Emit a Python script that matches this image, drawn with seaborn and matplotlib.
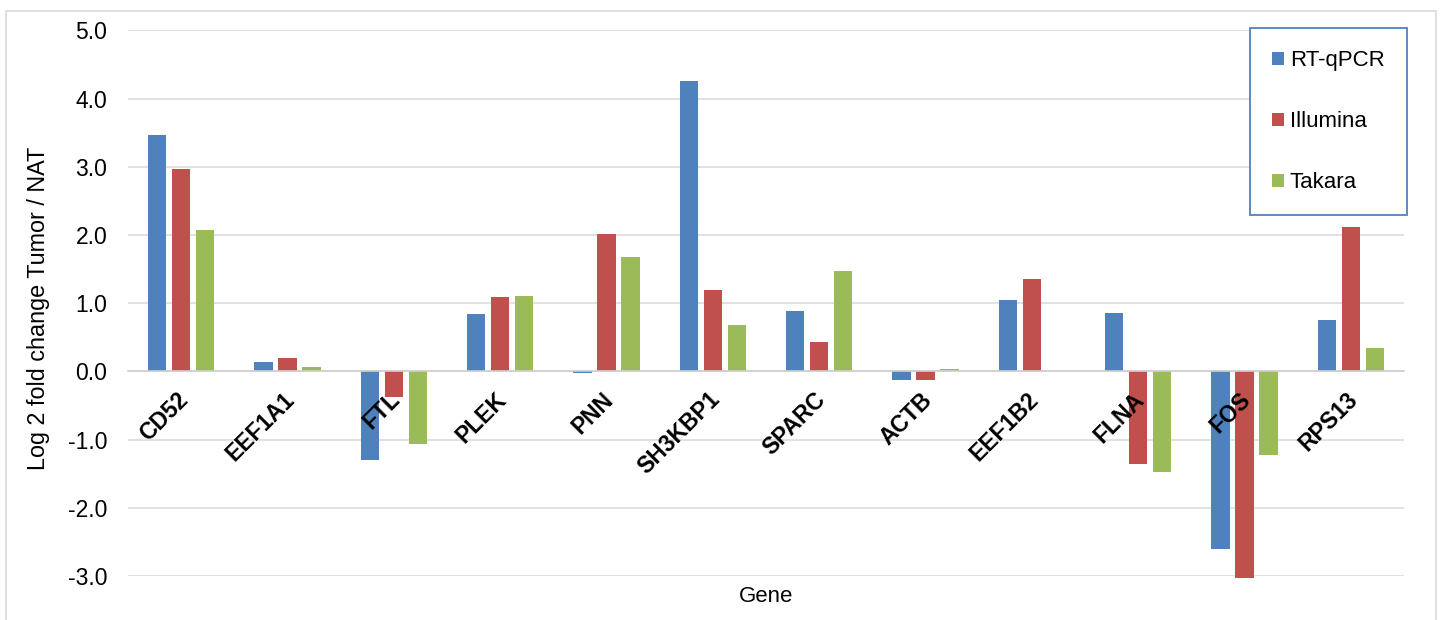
import numpy as np
import pandas as pd
import matplotlib
matplotlib.use("Agg")
import matplotlib.pyplot as plt
import seaborn as sns
from matplotlib.patches import Rectangle
from matplotlib.ticker import FormatStrFormatter
from matplotlib.transforms import ScaledTranslation

# ---- data ----
genes = ["CD52", "EEF1A1", "FTL", "PLEK", "PNN", "SH3KBP1", "SPARC",
         "ACTB", "EEF1B2", "FLNA", "FOS", "RPS13"]
rt_qpcr = [3.46, 0.13, -1.30, 0.84, -0.02, 4.25, 0.88, -0.13, 1.04, 0.85, -2.61, 0.76]
illumina = [2.97, 0.20, -0.38, 1.09, 2.01, 1.19, 0.43, -0.13, 1.35, -1.36, -3.03, 2.11]
takara = [2.07, 0.06, -1.07, 1.11, 1.67, 0.68, 1.47, 0.04, 0.00, -1.47, -1.23, 0.34]
series_names = ["RT-qPCR", "Illumina", "Takara"]
series_colors = ["#4F81BD", "#C0504D", "#9BBB59"]
y_ticks = [-3, -2, -1, 0, 1, 2, 3, 4, 5]

df = pd.DataFrame({
    "Gene": genes * 3,
    "Method": [series_names[0]] * len(genes) + [series_names[1]] * len(genes)
              + [series_names[2]] * len(genes),
    "Value": rt_qpcr + illumina + takara,
})

sns.set_theme(style="white")
plt.rcParams["font.family"] = ["Liberation Sans", "DejaVu Sans"]
plt.rcParams["axes.unicode_minus"] = False

W, H = 1440, 620
fig = plt.figure(figsize=(W / 100, H / 100), dpi=100)
ax = fig.add_axes([128 / W, 1 - 576 / H, (1404 - 128) / W, (576 - 30.3) / H])

sns.barplot(data=df, x="Gene", y="Value", hue="Method", order=genes,
            hue_order=series_names, palette=dict(zip(series_names, series_colors)),
            width=0.68, gap=0.24, errorbar=None, linewidth=0, saturation=1, ax=ax)

for p in ax.patches:
    p.set_clip_on(False)

ax.set_xlim(-0.5, len(genes) - 0.5)
ax.set_ylim(-3, 5)
ax.set_yticks(y_ticks)
ax.yaxis.set_major_formatter(FormatStrFormatter("%.1f"))

for s in ["top", "right", "left"]:
    ax.spines[s].set_visible(False)
ax.spines["bottom"].set_position(("data", 0))
ax.spines["bottom"].set_color("#D0D0D0")
ax.spines["bottom"].set_linewidth(1.2)

ax.grid(axis="y", color="#D9D9D9", linewidth=1.1)
ax.grid(axis="x", visible=False)
ax.set_axisbelow(True)
ax.xaxis.set_zorder(5)

ax.tick_params(axis="y", length=0, pad=15, labelsize=16.5, labelcolor="black")
ax.set_xticks(np.arange(len(genes)))
ax.set_xticklabels(genes, rotation=45, ha="right", va="top",
                   rotation_mode="anchor", fontweight="bold", fontsize=16.5)
ax.tick_params(axis="x", which="major", length=0, pad=12, labelcolor="black")
shift = ScaledTranslation(-5 / 100, 0, fig.dpi_scale_trans)
for lab in ax.get_xticklabels():
    lab.set_transform(lab.get_transform() + shift)
ax.set_xticks(np.arange(-0.5, len(genes), 1), minor=True)
ax.tick_params(axis="x", which="minor", length=5, width=1, color="#D0D0D0",
               direction="out")

ax.set_ylabel("Log 2 fold change Tumor / NAT", fontsize=16.8, color="black")
ax.yaxis.set_label_coords(-0.061, 0.49)
ax.set_xlabel("Gene", fontsize=16, color="black")
ax.xaxis.set_label_coords(0.5, -0.018)

sns.move_legend(ax, loc="upper left", bbox_to_anchor=(1250 / W, 1 - 28 / H),
                bbox_transform=fig.transFigure, borderaxespad=0, title=None,
                fontsize=16, frameon=True, fancybox=False, framealpha=1,
                edgecolor="#4F81BD", handlelength=0.55, handleheight=0.55,
                handletextpad=0.25, labelspacing=1.8, borderpad=1.0)
leg = ax.get_legend()
leg.get_frame().set_linewidth(1.3)
for t in leg.get_texts():
    t.set_color("black")

fig.patches.append(Rectangle((5.5 / W, -0.02), (1436 - 5.5) / W, 1 - 11 / H + 0.02,
                             transform=fig.transFigure, fill=False,
                             edgecolor="#D9D9D9", linewidth=1.2, zorder=-1))

fig.savefig("out.png", dpi=100, facecolor="white")
